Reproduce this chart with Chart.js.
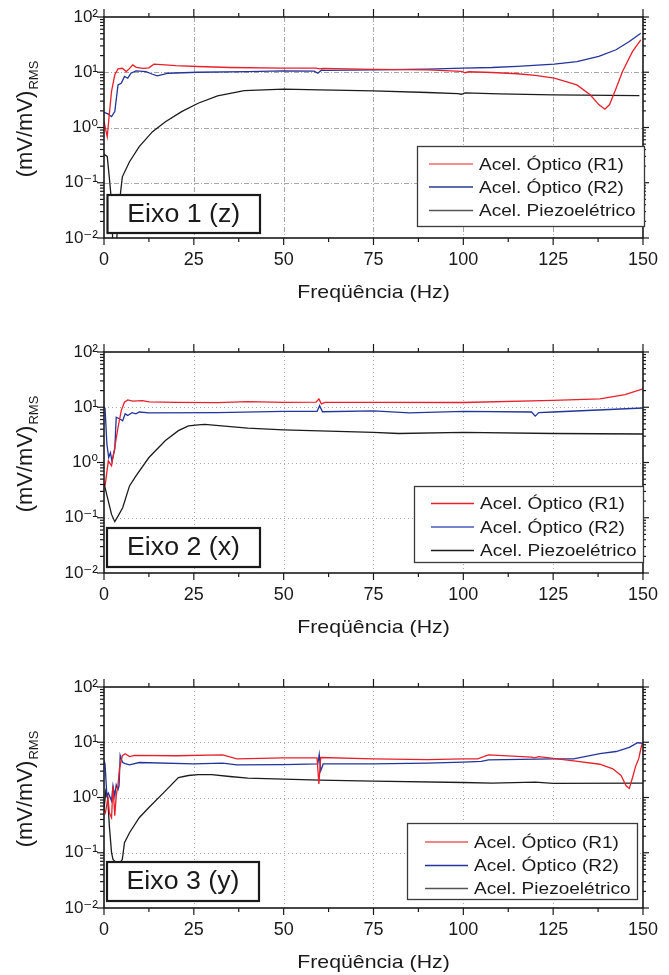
<!DOCTYPE html>
<html>
<head>
<meta charset="utf-8">
<script src="https://cdn.jsdelivr.net/npm/chart.js@4.4.1/dist/chart.umd.min.js"></script>
<style>
  body { margin: 0; background: #fff; }
  #wrap { position: relative; width: 669px; height: 975px; }
  canvas { position: absolute; left: 0; }
</style>
</head>
<body>
<div id="wrap">
  <canvas id="c1" width="669" height="335" style="top:0px"></canvas>
  <canvas id="c2" width="669" height="335" style="top:335px"></canvas>
  <canvas id="c3" width="669" height="305" style="top:670px"></canvas>
</div>
<script>
// tick labels / names
const freqTicks = [0, 25, 50, 75, 100, 125, 150];
const decades = [0.01, 0.1, 1, 10, 100];
const seriesNames = ['Acel. Óptico (R1)', 'Acel. Óptico (R2)', 'Acel. Piezoelétrico'];
const panelLabels = ['Eixo 1 (z)', 'Eixo 2 (x)', 'Eixo 3 (y)'];

// Eixo 1 (z)
const zR1f = [0, 0.5, 0.9, 1.5, 2.1, 3, 3.9, 5.1, 6.2, 7, 8, 9, 10.9, 12.5, 13.9, 17, 20, 26, 35, 50, 59, 60, 61, 75, 90, 99.5, 100.5, 101.5, 108, 115, 120, 125.3, 131.6, 135.3, 137.7, 139.4, 140.7, 142.5, 144.3, 147.1, 149.4];
const zR1v = [1.31, 0.9, 0.68, 1.8, 4.5, 9, 11.5, 11.8, 10.3, 11.5, 13.6, 12.3, 11.8, 12, 14.0, 13.6, 13.2, 12.7, 12.2, 11.9, 11.9, 11.5, 11.8, 11.3, 11.0, 10.4, 9.8, 10.2, 9.9, 9.4, 8.8, 7.8, 5.9, 3.9, 2.6, 2.14, 2.6, 5.1, 10.3, 23.8, 38.7];
const zR2f = [0, 1.1, 2.1, 3, 3.9, 4.8, 5.7, 6.6, 7.5, 8.9, 11.7, 13.5, 14.8, 17.9, 26, 40, 50, 58.5, 59.5, 60.5, 62, 75, 90, 100, 108, 115, 125.3, 131.6, 137.7, 142.5, 146.2, 149.4];
const zR2v = [1.89, 1.76, 1.57, 1.94, 5.9, 6.3, 8.4, 7.8, 9.6, 10.6, 10.3, 9.2, 8.6, 9.6, 10.0, 10.3, 10.6, 10.5, 9.6, 10.9, 10.8, 11.0, 11.4, 11.9, 12.2, 12.8, 14, 15.6, 19.3, 25.5, 36, 51];
const zPzf = [0, 0.9, 1.5, 2.1, 2.5, 3.4, 3.9, 5.1, 7.1, 9.8, 13.5, 17.1, 21.6, 26.2, 31.6, 39, 50, 60, 75, 90, 98.5, 99.5, 100.5, 110, 125, 149];
const zPzv = [0.326, 0.30, 0.12, 0.045, 0.006, 0.006, 0.026, 0.128, 0.24, 0.45, 0.84, 1.27, 1.94, 2.75, 3.73, 4.66, 4.93, 4.8, 4.6, 4.3, 4.1, 4.0, 4.25, 4.05, 3.89, 3.78];

// Eixo 2 (x)
const xR1f = [0.3, 1.2, 2.1, 3, 3.9, 4.8, 5.7, 6.6, 8, 10.7, 12.5, 20, 31.6, 40, 50, 59, 59.8, 60.5, 61.5, 75, 100, 125, 138, 145, 150];
const xR1v = [0.377, 1.07, 0.87, 1.87, 4.3, 8.7, 12.3, 13.6, 12.9, 13.2, 12.5, 12.3, 12.1, 12.6, 12.3, 12.4, 14.2, 11.5, 12.3, 12.3, 12.2, 13.3, 14.2, 17, 21.6];
const xR2f = [0, 0.3, 0.8, 1.3, 1.8, 2.2, 3, 3.4, 4.3, 5.2, 5.9, 6.6, 7.8, 8.9, 9.8, 12.5, 31.6, 50, 59.3, 60, 60.8, 75, 85, 100, 119, 120, 121, 125, 150];
const xR2v = [10.3, 9.4, 2.16, 1.23, 1.5, 1.07, 1.75, 6.6, 6.2, 5.7, 7.6, 7.1, 8.0, 7.6, 8.2, 7.9, 8.0, 8.45, 8.4, 10.7, 8.3, 8.6, 7.9, 8.4, 8.2, 6.9, 8.0, 8.2, 9.7];
const xPzf = [0, 1.2, 2.1, 3, 3.9, 5.2, 7.1, 8.9, 12.5, 17.1, 20.7, 23.5, 26.2, 28, 40, 50, 75, 82, 100, 125, 150];
const xPzv = [0.42, 0.20, 0.115, 0.085, 0.107, 0.152, 0.377, 0.575, 1.23, 2.5, 3.77, 4.6, 4.8, 4.9, 4.2, 3.9, 3.5, 3.35, 3.5, 3.35, 3.28];

// Eixo 3 (y)
const yR1f = [0, 0.4, 1.1, 1.5, 2.1, 2.5, 3, 3.4, 3.9, 4.3, 5.1, 5.9, 7.1, 8.5, 20, 33, 37, 50, 59.3, 59.8, 60.3, 75, 90, 100, 104, 107, 119, 119.8, 121, 130.7, 138, 141.6, 143.9, 145.3, 146.2, 147.1, 148, 148.8, 149.6, 150];
const yR1v = [0.61, 0.53, 1.0, 0.53, 0.43, 1.63, 0.47, 1.07, 1.7, 3.3, 5.7, 6.2, 5.5, 5.8, 5.7, 5.9, 5.0, 5.2, 5.2, 1.75, 5.3, 5.0, 4.85, 5.0, 5.0, 5.9, 5.4, 5.2, 5.5, 4.6, 4.0, 3.3, 2.5, 1.63, 1.46, 2.3, 3.77, 5.0, 8.7, 9.6];
const yR2f = [0, 0.3, 0.8, 1.2, 2.1, 2.5, 3, 3.4, 3.9, 4.2, 4.5, 4.8, 5.2, 5.9, 7.1, 9.8, 25, 33, 37, 50, 59.5, 59.9, 60.3, 61, 75, 90, 100, 105, 107, 125, 130.7, 138, 142.5, 146.2, 148.5, 150];
const yR2v = [4.65, 4.0, 1.07, 1.2, 0.87, 1.63, 1.07, 1.7, 1.4, 1.63, 5.8, 5.0, 4.3, 4.1, 3.9, 4.3, 4.05, 4.2, 3.9, 3.95, 4.05, 6.0, 3.05, 4.05, 4.05, 4.2, 4.35, 4.5, 4.8, 5.0, 5.0, 6.2, 6.8, 8.1, 9.8, 9.6];
const yPzf = [0, 0.5, 1.0, 1.5, 2.1, 2.5, 3.4, 4.3, 5.1, 5.7, 7.1, 9.8, 12.5, 17.1, 20.7, 23.5, 26.2, 30, 35, 40, 60, 75, 100, 108, 120, 125, 150];
const yPzv = [0.6, 1.3, 1.0, 0.3, 0.1, 0.076, 0.066, 0.063, 0.076, 0.152, 0.23, 0.43, 0.66, 1.32, 2.3, 2.5, 2.6, 2.6, 2.4, 2.25, 2.07, 1.98, 1.87, 1.82, 1.9, 1.8, 1.82];

const FONT = '"Liberation Sans", Arial, "DejaVu Sans", sans-serif';
const SUP = { '-2': '\u207B\u00B2', '-1': '\u207B\u00B9', '0': '\u2070', '1': '\u00B9', '2': '\u00B2' };
const lineColors = ['#e8202a', '#23349a', '#1c1c1c'];

function seg(ctx, x1, y1, x2, y2) {
  ctx.beginPath(); ctx.moveTo(x1, y1); ctx.lineTo(x2, y2); ctx.stroke();
}

function wideText(ctx, text, x, y, sx) {
  ctx.save();
  ctx.translate(x, y);
  ctx.scale(sx, 1);
  ctx.fillText(text, 0, 0);
  ctx.restore();
}

// grid, frame, ticks, legend box, panel label and axis titles
const frame = {
  id: 'frame',
  beforeDatasetsDraw(chart, args, o) {
    const { ctx, chartArea: a, scales: { x, y } } = chart;
    ctx.save();
    ctx.strokeStyle = '#a8a8a8';
    ctx.lineWidth = 1;
    ctx.setLineDash(o.dash);
    freqTicks.slice(1, -1).forEach(v => {
      const px = Math.round(x.getPixelForValue(v)) + 0.5;
      seg(ctx, px, a.top, px, a.bottom);
    });
    decades.slice(1, -1).forEach(v => {
      const py = Math.round(y.getPixelForValue(v)) + 0.5;
      seg(ctx, a.left, py, a.right, py);
    });
    ctx.restore();
  },
  afterDatasetsDraw(chart, args, o) {
    const { ctx, chartArea: a, scales: { x, y } } = chart;
    ctx.save();
    ctx.strokeStyle = '#1a1a1a';
    ctx.lineWidth = 1.2;
    // x ticks, top and bottom, outward
    for (let v = 0; v <= 150; v += 12.5) {
      const px = x.getPixelForValue(v);
      const major = v % 25 === 0;
      seg(ctx, px, a.bottom, px, a.bottom + (major ? 7 : 4));
      seg(ctx, px, a.top, px, a.top - (major ? 8 : 4));
    }
    // y ticks, left and right, outward
    decades.forEach((d, i) => {
      const py = y.getPixelForValue(d);
      seg(ctx, a.left - 7, py, a.left, py);
      seg(ctx, a.right, py, a.right + 6, py);
      if (i < decades.length - 1) {
        for (let m = 2; m <= 9; m++) {
          const pm = y.getPixelForValue(d * m);
          seg(ctx, a.left - 4, pm, a.left, pm);
          seg(ctx, a.right, pm, a.right + 3, pm);
        }
      }
    });
    ctx.lineWidth = 1.6;
    ctx.strokeRect(a.left, a.top, a.right - a.left, a.bottom - a.top);

    // legend box
    const L = o.legend;
    ctx.fillStyle = '#fff';
    ctx.fillRect(L.x, L.y, L.w, L.h);
    ctx.strokeStyle = '#3a3a3a';
    ctx.lineWidth = 1.3;
    ctx.strokeRect(L.x + 0.5, L.y + 0.5, L.w, L.h);
    ctx.font = '17px ' + FONT;
    ctx.textBaseline = 'middle';
    ctx.textAlign = 'left';
    seriesNames.forEach((name, i) => {
      const ry = L.y + L.rows[i];
      ctx.strokeStyle = o.legendColors[i];
      ctx.lineWidth = 1.6;
      seg(ctx, L.x + L.l0, ry, L.x + L.l1, ry);
      ctx.fillStyle = '#1a1a1a';
      wideText(ctx, name, L.x + L.tx, ry + 1, 1.12);
    });

    // panel label box
    const B = o.box;
    ctx.fillStyle = '#fff';
    ctx.fillRect(B.x, B.y, B.w, B.h);
    ctx.strokeStyle = '#1a1a1a';
    ctx.lineWidth = 2.2;
    ctx.strokeRect(B.x, B.y, B.w, B.h);
    ctx.fillStyle = '#1a1a1a';
    ctx.font = '25px ' + FONT;
    ctx.textAlign = 'center';
    wideText(ctx, o.label, B.x + B.w / 2, B.y + B.h / 2 + 1, 1.07);

    // x title
    ctx.font = '19px ' + FONT;
    wideText(ctx, 'Freqüência (Hz)', (a.left + a.right) / 2, a.bottom + 55, 1.12);

    // y title with subscript
    ctx.save();
    ctx.translate(32, (a.top + a.bottom) / 2 - 8);
    ctx.rotate(-Math.PI / 2);
    ctx.textAlign = 'left';
    ctx.textBaseline = 'alphabetic';
    ctx.font = '22px ' + FONT;
    const main = '(mV/mV)';
    const w1 = ctx.measureText(main).width;
    ctx.font = '13px ' + FONT;
    const w2 = ctx.measureText('RMS').width;
    const x0 = -(w1 + w2) / 2;
    ctx.font = '22px ' + FONT;
    ctx.fillText(main, x0, 0);
    ctx.font = '13px ' + FONT;
    ctx.fillText('RMS', x0 + w1 + 1, 6);
    ctx.restore();

    ctx.restore();
  }
};

function panel(id, h, sets, look) {
  new Chart(document.getElementById(id), {
    type: 'line',
    data: {
      datasets: sets.map((s, i) => ({
        label: seriesNames[i],
        data: s[0].map((f, k) => ({ x: f, y: s[1][k] })),
        borderColor: lineColors[i],
        borderWidth: 1.3,
        pointRadius: 0,
        tension: 0,
        fill: false
      }))
    },
    options: {
      responsive: false,
      animation: false,
      devicePixelRatio: 1,
      layout: { padding: { top: 17, right: 15, left: 0, bottom: 0 } },
      plugins: { legend: { display: false }, tooltip: { enabled: false }, frame: look },
      scales: {
        x: {
          type: 'linear', min: 0, max: 150,
          afterBuildTicks: s => { s.ticks = freqTicks.map(v => ({ value: v })); },
          afterFit: s => { s.height = h - 238; },
          grid: { display: false, drawTicks: false },
          border: { display: false },
          ticks: { font: { family: FONT, size: 18 }, color: '#1a1a1a', padding: 11, maxRotation: 0 }
        },
        y: {
          type: 'logarithmic', min: 0.01, max: 100,
          afterBuildTicks: s => { s.ticks = decades.map(v => ({ value: v })); },
          afterFit: s => { s.width = 104; },
          grid: { display: false, drawTicks: false },
          border: { display: false },
          ticks: {
            font: { family: FONT, size: 17 }, color: '#1a1a1a', padding: 6,
            callback: v => '10' + SUP[String(Math.round(Math.log10(v)))]
          }
        }
      }
    },
    plugins: [frame]
  });
}

panel('c1', 335, [[zR1f, zR1v], [zR2f, zR2v], [zPzf, zPzv]], {
  dash: [5, 2, 1, 2],
  label: panelLabels[0],
  legendColors: ['#f26a6a', '#2b3a8f', '#555'],
  legend: { x: 417, y: 146, w: 227, h: 80, rows: [18, 41, 64.5], l0: 12, l1: 56, tx: 62 },
  box: { x: 107.5, y: 195, w: 152.5, h: 38 }
});
panel('c2', 335, [[xR1f, xR1v], [xR2f, xR2v], [xPzf, xPzv]], {
  dash: [1, 3],
  label: panelLabels[1],
  legendColors: ['#e8202a', '#4a5ab8', '#1c1c1c'],
  legend: { x: 414, y: 151, w: 229, h: 76, rows: [17.5, 41, 64.5], l0: 17, l1: 60, tx: 66 },
  box: { x: 107, y: 193, w: 153, h: 39 }
});
panel('c3', 305, [[yR1f, yR1v], [yR2f, yR2v], [yPzf, yPzv]], {
  dash: [1, 3],
  label: panelLabels[2],
  legendColors: ['#f25b5b', '#23349a', '#555'],
  legend: { x: 407, y: 153, w: 230, h: 76, rows: [19, 42.5, 65.5], l0: 18, l1: 61, tx: 67 },
  box: { x: 107, y: 192, w: 152, h: 39 }
});
</script>
</body>
</html>
